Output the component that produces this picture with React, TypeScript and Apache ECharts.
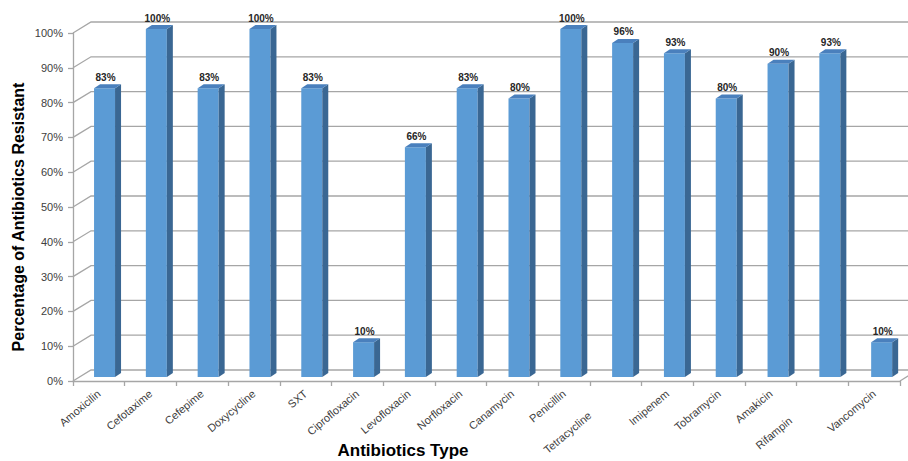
import React, { useEffect, useRef } from "react";
import * as echarts from "echarts";

const categories = [
  "Amoxicilin", "Cefotaxime", "Cefepime", "Doxycycline", "SXT", "Ciprofloxacin",
  "Levofloxacin", "Norfloxacin", "Canamycin", "Penicillin", "Tetracycline",
  "Imipenem", "Tobramycin", "Amakicin", "Rifampin", "Vancomycin",
];
const resistance = [83, 100, 83, 100, 83, 10, 66, 83, 80, 100, 96, 93, 80, 90, 93, 10];
const yTicks = [0, 10, 20, 30, 40, 50, 60, 70, 80, 90, 100];
const loweredLabels: Record<string, number> = { Tetracycline: 34, Rifampin: 42 };

const GRID = "#A6A6A6";
const FRONT = "#5B9BD5";
const SIDE = "#3A6793";
const TOP = "#4A80BD";
const FONT = "Liberation Sans, Arial, sans-serif";

export default function App() {
  const ref = useRef<HTMLDivElement>(null);
  useEffect(() => {
    document.body.style.margin = "0";
    if (!ref.current) return;
    const chart = echarts.init(ref.current, null, { renderer: "svg" });
    const wallDX = 18;
    const wallDY = -11;
    chart.setOption({
      animation: false,
      backgroundColor: "#ffffff",
      grid: { left: 73, right: 8, top: 33, bottom: 80 },
      xAxis: {
        type: "category",
        data: categories,
        boundaryGap: true,
        axisLine: { show: true, lineStyle: { color: GRID, width: 1.3 } },
        axisTick: { show: true, length: 5, lineStyle: { color: GRID, width: 1.3 } },
        axisLabel: {
          interval: 0,
          rotate: 40,
          margin: 11,
          fontSize: 11,
          fontFamily: FONT,
          color: "#404040",
          formatter: (v: string) => (loweredLabels[v] ? `{${v === "Tetracycline" ? "t" : "r"}|${v}}` : v),
          rich: {
            t: { padding: [0, loweredLabels.Tetracycline, 0, 0], fontSize: 11, color: "#404040", fontFamily: FONT },
            r: { padding: [0, loweredLabels.Rifampin, 0, 0], fontSize: 11, color: "#404040", fontFamily: FONT },
          },
        },
        splitLine: { show: false },
      },
      yAxis: {
        type: "value",
        min: 0,
        max: 100,
        interval: 10,
        axisLine: { show: true, lineStyle: { color: GRID, width: 1.3 } },
        axisTick: { show: true, length: 5, lineStyle: { color: GRID, width: 1.3 } },
        axisLabel: {
          formatter: "{value}%",
          margin: 10,
          fontSize: 11,
          fontFamily: FONT,
          color: "#404040",
        },
        splitLine: { show: false },
      },
      graphic: [
        {
          type: "text",
          x: 18,
          y: 217,
          rotation: Math.PI / 2,
          style: {
            text: "Percentage of Antibiotics Resistant",
            textAlign: "center",
            textVerticalAlign: "middle",
            fontSize: 16,
            fontWeight: "bold",
            fontFamily: FONT,
            fill: "#000000",
          },
        },
        {
          type: "text",
          x: 403,
          y: 450,
          style: {
            text: "Antibiotics Type",
            textAlign: "center",
            textVerticalAlign: "middle",
            fontSize: 17,
            fontWeight: "bold",
            fontFamily: FONT,
            fill: "#000000",
          },
        },
      ],
      series: [
        {
          type: "custom",
          z: 1,
          silent: true,
          data: yTicks.map((v) => [0, v]),
          renderItem: (params: any, api: any) => {
            const cs = params.coordSys;
            const v = api.value(1);
            const y = api.coord([0, v])[1];
            const x0 = cs.x;
            const x1 = cs.x + cs.width;
            const children: any[] = [
              {
                type: "polyline",
                shape: {
                  points: [
                    [x0, y],
                    [x0 + wallDX, y + wallDY],
                    [x1 + wallDX + 20, y + wallDY],
                  ],
                },
                style: { stroke: GRID, lineWidth: 1.3, fill: null },
              },
            ];
            if (v === 0) {
              children.push({
                type: "line",
                shape: { x1: x1, y1: y, x2: x1 + wallDX, y2: y + wallDY },
                style: { stroke: GRID, lineWidth: 1.3 },
              });
            }
            return { type: "group", children };
          },
        },
        {
          type: "custom",
          z: 3,
          data: resistance.map((v, i) => [i, v]),
          renderItem: (params: any, api: any) => {
            const idx = api.value(0);
            const v = api.value(1);
            const top = api.coord([idx, v]);
            const base = api.coord([idx, 0]);
            const w = 21;
            const dx = 6;
            const dy = -4;
            const shift = 5.7 + idx * 0.12;
            const cx = top[0] + shift;
            const x = cx - w / 2;
            const yT = top[1] - 4;
            const yB = base[1] - 4;
            return {
              type: "group",
              children: [
                {
                  type: "rect",
                  shape: { x, y: yT, width: w, height: yB - yT },
                  style: { fill: FRONT },
                },
                {
                  type: "polygon",
                  shape: {
                    points: [
                      [x + w, yT],
                      [x + w + dx, yT + dy],
                      [x + w + dx, yB + dy],
                      [x + w, yB],
                    ],
                  },
                  style: { fill: SIDE },
                },
                {
                  type: "polygon",
                  shape: {
                    points: [
                      [x, yT],
                      [x + dx, yT + dy],
                      [x + w + dx, yT + dy],
                      [x + w, yT],
                    ],
                  },
                  style: { fill: TOP },
                },
                {
                  type: "text",
                  style: {
                    text: `${v}%`,
                    x: cx + 1,
                    y: yT - 11,
                    textAlign: "center",
                    textVerticalAlign: "middle",
                    fontSize: 10,
                    fontWeight: "bold",
                    fontFamily: FONT,
                    fill: "#262626",
                  },
                },
              ],
            };
          },
        },
      ],
    });
    return () => chart.dispose();
  }, []);
  return <div ref={ref} style={{ width: 908, height: 461 }} />;
}
